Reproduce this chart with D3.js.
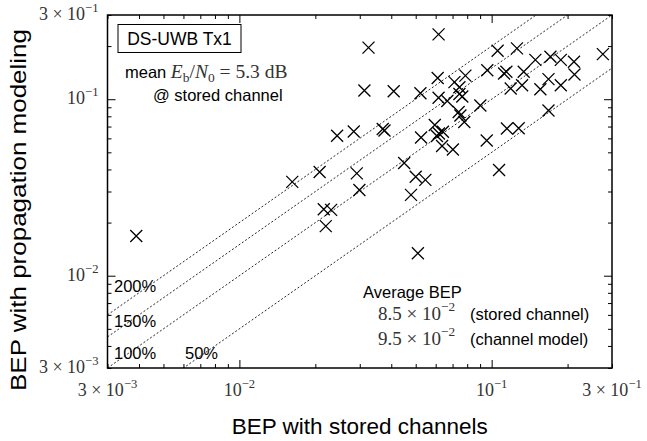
<!DOCTYPE html>
<html>
<head>
<meta charset="utf-8">
<script src="https://cdn.jsdelivr.net/npm/d3@7"></script>
<style>
  body { margin: 0; background: #fff; }
  .sans { font-family: "Liberation Sans", Arial, sans-serif; }
  .math { font-family: "Liberation Serif", "Times New Roman", serif; fill: #333; }
</style>
</head>
<body>
<div id="chart"></div>
<script>
// BEP with stored channels (x) vs BEP with propagation modeling (y)
var storedBEP = [0.0039, 0.0162, 0.0208, 0.0216, 0.0231, 0.0220, 0.0244, 0.0284, 0.0292, 0.0299,
                 0.0313, 0.0325, 0.0370, 0.0376, 0.0409, 0.0450, 0.0479, 0.0500, 0.0546, 0.0510,
                 0.0522, 0.0525, 0.0595, 0.0616, 0.0611, 0.0616, 0.0667, 0.0712, 0.0745, 0.0745,
                 0.0765, 0.0787, 0.0740, 0.0752, 0.0779, 0.0607, 0.0618, 0.0641, 0.0636, 0.0702,
                 0.0902, 0.0956, 0.0961, 0.1056, 0.126, 0.112, 0.1144, 0.134, 0.149, 0.171,
                 0.188, 0.212, 0.213, 0.276, 0.119, 0.132, 0.156, 0.168, 0.188, 0.107,
                 0.115, 0.128, 0.168];
var modelBEP  = [0.0168, 0.0340, 0.0387, 0.0238, 0.0236, 0.0191, 0.0621, 0.0656, 0.0380, 0.0306,
                 0.112, 0.196, 0.0678, 0.0665, 0.111, 0.0435, 0.0287, 0.0364, 0.0349, 0.0134,
                 0.108, 0.0607, 0.0714, 0.233, 0.132, 0.102, 0.0977, 0.125, 0.117, 0.107,
                 0.1036, 0.136, 0.0846, 0.0808, 0.0743, 0.0619, 0.0639, 0.0654, 0.0543, 0.0519,
                 0.0921, 0.0584, 0.146, 0.188, 0.194, 0.140, 0.1432, 0.143, 0.167, 0.174,
                 0.167, 0.163, 0.138, 0.180, 0.115, 0.120, 0.114, 0.130, 0.120, 0.0397,
                 0.0682, 0.0684, 0.0863];

// reference lines y = ratio * x
var ratios = [2, 1.5, 1, 0.5];
var ratioLabels = ["200%", "150%", "100%", "50%"];

// tick labels: [value, mantissa, exponent]
var xTickLabels = [[0.003, "3", "−3"], [0.01, "", "−2"], [0.1, "", "−1"], [0.3, "3", "−1"]];
var yTickLabels = [[0.003, "3", "−3"], [0.01, "", "−2"], [0.1, "", "−1"], [0.3, "3", "−1"]];

var avgValues = [["8.5", "−2", "(stored channel)"], ["9.5", "−2", "(channel model)"]];

var margin = {top: 15, right: 35, bottom: 73, left: 107.5},
    width = 647 - margin.left - margin.right,
    height = 441 - margin.top - margin.bottom;

var svg = d3.select("#chart")
  .append("svg")
    .attr("width", 647)
    .attr("height", 441);

var g = svg.append("g")
    .attr("transform", "translate(" + margin.left + "," + margin.top + ")");

var x = d3.scaleLog().domain([3e-3, 3e-1]).range([0, width]);
var y = d3.scaleLog().domain([3e-3, 3e-1]).range([height, 0]);

var isMajor = function(d) { return Math.abs(Math.log10(d) - Math.round(Math.log10(d))) < 1e-6; };

svg.append("defs").append("clipPath").attr("id", "clip")
  .append("rect").attr("width", width).attr("height", height);

// ratio lines
g.append("g").attr("clip-path", "url(#clip)")
  .selectAll("line.ratio")
  .data(ratios)
  .enter().append("line")
    .attr("x1", x(3e-3))
    .attr("y1", d => y(3e-3 * d))
    .attr("x2", x(3e-1))
    .attr("y2", d => y(3e-1 * d))
    .attr("stroke", "#111")
    .attr("stroke-width", 0.9)
    .attr("stroke-dasharray", "2,2");

// ticks on all four sides, pointing inwards
var ticks = x.ticks();
function styleTicks(sel, attr, sign) {
  sel.select(".domain").remove();
  sel.selectAll(".tick line")
    .attr(attr, d => sign * (isMajor(d) ? 8 : 4))
    .attr("stroke", "#000");
}
g.append("g").attr("transform", "translate(0," + height + ")")
  .call(d3.axisBottom(x).tickValues(ticks).tickFormat(""))
  .call(s => styleTicks(s, "y2", -1));
g.append("g")
  .call(d3.axisTop(x).tickValues(ticks).tickFormat(""))
  .call(s => styleTicks(s, "y2", 1));
g.append("g")
  .call(d3.axisLeft(y).tickValues(ticks).tickFormat(""))
  .call(s => styleTicks(s, "x2", 1));
g.append("g").attr("transform", "translate(" + width + ",0)")
  .call(d3.axisRight(y).tickValues(ticks).tickFormat(""))
  .call(s => styleTicks(s, "x2", -1));

// frame
g.append("rect")
  .attr("width", width).attr("height", height)
  .attr("fill", "none").attr("stroke", "#000").attr("stroke-width", 1.5);

// power-of-ten labels
function powLabel(sel, m, e, sz) {
  sel.append("tspan").text(m ? m + " × 10" : "10");
  sel.append("tspan").attr("dy", -sz * 0.45).attr("font-size", sz * 0.7).text(e);
}
xTickLabels.forEach(function(t) {
  g.append("text").attr("class", "math")
    .attr("x", x(t[0])).attr("y", height + 28)
    .attr("text-anchor", "middle").attr("font-size", 18)
    .call(powLabel, t[1], t[2], 18);
});
yTickLabels.forEach(function(t) {
  g.append("text").attr("class", "math")
    .attr("x", -9).attr("y", y(t[0]) + 5)
    .attr("text-anchor", "end").attr("font-size", 18)
    .call(powLabel, t[1], t[2], 18);
});

// markers
var s = 6;
var pts = storedBEP.map((v, i) => [v, modelBEP[i]]);
var marks = g.append("g").selectAll("g.pt")
  .data(pts)
  .enter().append("g")
    .attr("transform", d => "translate(" + x(d[0]) + "," + y(d[1]) + ")");
marks.append("path")
  .attr("d", "M" + -s + "," + -s + "L" + s + "," + s + "M" + -s + "," + s + "L" + s + "," + -s)
  .attr("stroke", "#000").attr("stroke-width", 1.3).attr("fill", "none");

// ratio labels
var labelPos = [[6.5, 277], [6.5, 312], [6.5, 344], [77.5, 344]];
ratioLabels.forEach(function(l, i) {
  g.append("text").attr("class", "sans")
    .attr("x", labelPos[i][0]).attr("y", labelPos[i][1])
    .attr("font-size", 16.5).text(l);
});

// title box
g.append("rect").attr("x", 10.5).attr("y", 9.5).attr("width", 123).attr("height", 28)
  .attr("fill", "#fff").attr("stroke", "#000").attr("stroke-width", 1);
g.append("text").attr("class", "sans").attr("x", 72).attr("y", 30)
  .attr("text-anchor", "middle").attr("font-size", 17.5).text("DS-UWB Tx1");

var t1 = g.append("text").attr("x", 17.5).attr("y", 63);
t1.append("tspan").attr("class", "sans").attr("font-size", 16.5).text("mean ");
var m1 = t1.append("tspan").attr("class", "math").attr("font-size", 19.5);
m1.append("tspan").attr("font-style", "italic").text("E");
m1.append("tspan").attr("font-size", 13.5).attr("dy", 3.5).text("b");
m1.append("tspan").attr("dy", -3.5).text("/");
m1.append("tspan").attr("font-style", "italic").text("N");
m1.append("tspan").attr("font-size", 13.5).attr("dy", 3.5).text("0");
m1.append("tspan").attr("dy", -3.5).text(" = 5.3 dB");
g.append("text").attr("class", "sans").attr("x", 45.5).attr("y", 86)
  .attr("font-size", 16.5).text("@ stored channel");

// average BEP block
g.append("text").attr("class", "sans").attr("x", 255.5).attr("y", 283)
  .attr("font-size", 16.5).text("Average BEP");
avgValues.forEach(function(a, i) {
  g.append("text").attr("class", "math")
    .attr("x", 270.5).attr("y", 305 + i * 25).attr("font-size", 19)
    .call(powLabel, a[0], a[1], 19);
  g.append("text").attr("class", "sans")
    .attr("x", 362.5).attr("y", 305 + i * 25).attr("font-size", 16.5).text(a[2]);
});

// axis titles
svg.append("text").attr("class", "sans")
  .attr("x", margin.left + width / 2).attr("y", 434)
  .attr("text-anchor", "middle").attr("font-size", 22.5)
  .text("BEP with stored channels");
svg.append("text").attr("class", "sans")
  .attr("transform", "translate(26,210) rotate(-90)")
  .attr("text-anchor", "middle").attr("font-size", 22.5)
  .attr("textLength", 362).attr("lengthAdjust", "spacingAndGlyphs")
  .text("BEP with propagation modeling");
</script>
</body>
</html>
